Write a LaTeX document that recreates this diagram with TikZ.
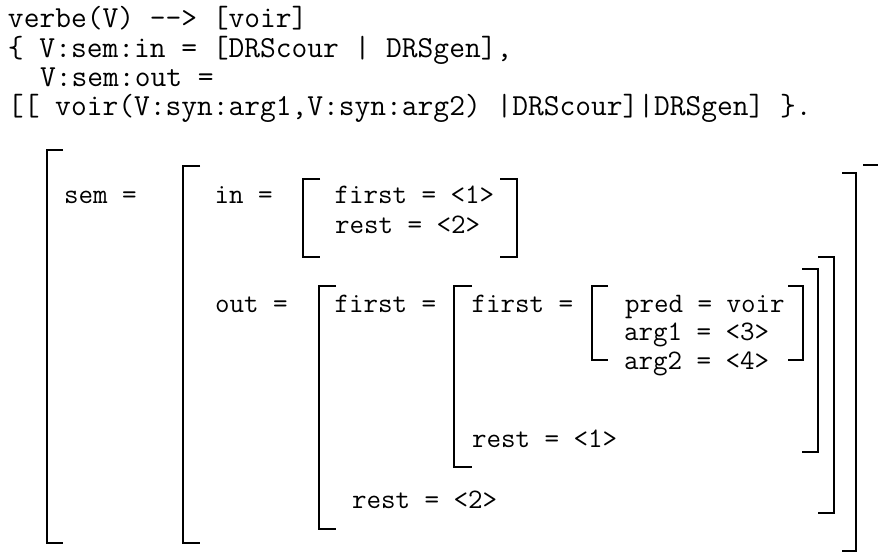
\documentclass[tikz,border=0pt]{standalone}
\usepackage{fontspec}
% Latin Modern Mono (default \ttfamily): advance 0.525em
\newcommand\toptxtfont{\fontsize{30.6}{33}\selectfont\ttfamily}
\newcommand\fstxtfont{\fontsize{28.2}{31}\selectfont\ttfamily}
\tikzset{
  toptxt/.style={anchor=base west, inner sep=0pt, outer sep=0pt, font=\toptxtfont},
  fstxt/.style={anchor=base west, inner sep=0pt, outer sep=0pt, font=\fstxtfont},
  brk/.style={draw=black, line width=2.6pt, line join=miter, line cap=butt}
}
\begin{document}
\begin{tikzpicture}[x=1pt, y=-1pt]
\useasboundingbox[fill=white] (0,0) rectangle (878,557);
\clip (0,0) rectangle (878,557);
% rule text
\node[toptxt] (l1) at (8,27) {verbe(V) {-}{-}> [voir]};
\node[toptxt] (l2) at (8,57) {\{ V:sem:in = [DRScour | DRSgen],};
\node[toptxt] (l3) at (40.2,86) {V:sem:out =};
\node[toptxt] (l4) at (8,115) {[[ voir(V:syn:arg1,V:syn:arg2) |DRScour]|DRSgen] \}.};
% outer structure
\draw[brk] (63,150) -- (47,150) -- (47,543) -- (63,543);
\draw[brk] (863,165) -- (882,165) -- (882,552);
\node[fstxt] (sem) at (64,203) {sem =};
% sem value
\draw[brk] (200,166) -- (183,166) -- (183,543) -- (200,543);
\draw[brk] (842,173) -- (856,173) -- (856,551) -- (842,551);
\node[fstxt] (in) at (214.5,203) {in =};
\node[fstxt] (out) at (215,312) {out =};
% in value
\draw[brk] (320,179) -- (303,179) -- (303,257) -- (320,257);
\draw[brk] (500,179) -- (517,179) -- (517,257) -- (500,257);
\node[fstxt] (infirst) at (334.5,203) {first = <1>};
\node[fstxt] (inrest) at (335,233) {rest = <2>};
% out value
\draw[brk] (336,286) -- (319,286) -- (319,529) -- (336,529);
\draw[brk] (818,257) -- (834,257) -- (834,513) -- (818,513);
\node[fstxt] (outfirst) at (334.5,312) {first =};
\node[fstxt] (outrest) at (352,508) {rest = <2>};
% out first value
\draw[brk] (472,286) -- (454,286) -- (454,467) -- (472,467);
\draw[brk] (802,269) -- (818,269) -- (818,452) -- (802,452);
\node[fstxt] (ffirst) at (471.5,312) {first =};
\node[fstxt] (frest) at (472,447) {rest = <1>};
% pred structure
\draw[brk] (608,286) -- (592,286) -- (592,360) -- (608,360);
\draw[brk] (788,286) -- (803,286) -- (803,360) -- (788,360);
\node[fstxt] (pred) at (625,312) {pred = voir};
\node[fstxt] (arg1) at (624,340) {arg1 = <3>};
\node[fstxt] (arg2) at (624,369) {arg2 = <4>};
\end{tikzpicture}
\end{document}
